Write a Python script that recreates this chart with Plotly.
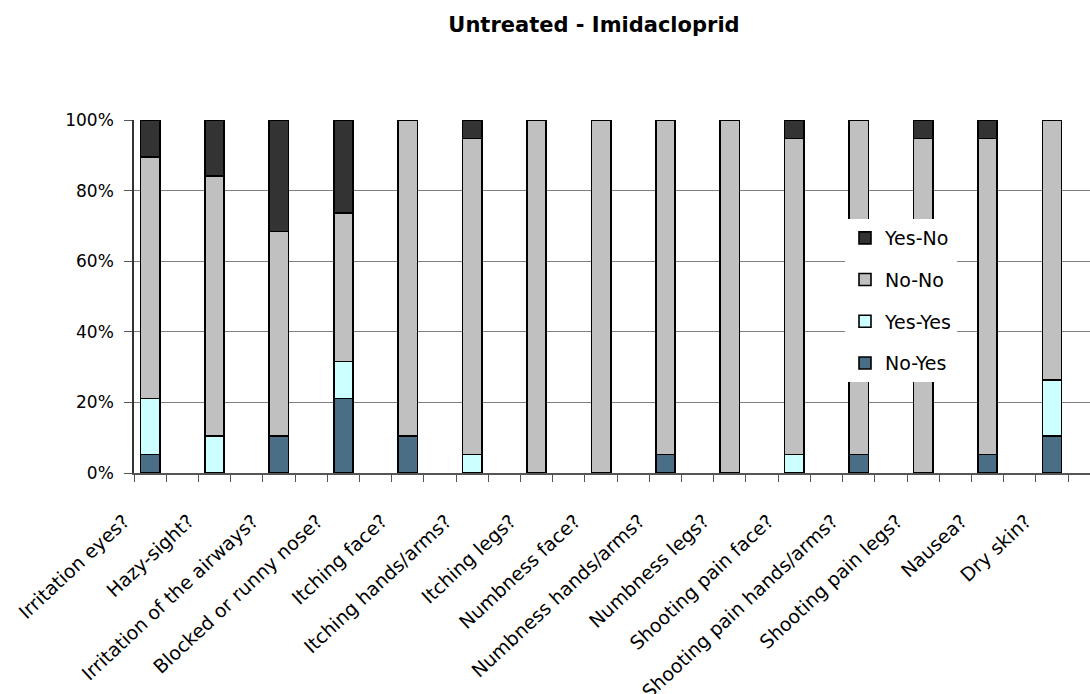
import plotly.graph_objects as go

categories = ["Irritation eyes?", "Hazy-sight?", "Irritation of the airways?",
              "Blocked or runny nose?", "Itching face?", "Itching hands/arms?",
              "Itching legs?", "Numbness face?", "Numbness hands/arms?",
              "Numbness legs?", "Shooting pain face?", "Shooting pain hands/arms?",
              "Shooting pain legs?", "Nausea?", "Dry skin?"]

# counts of respondents (shown as percentage of each group's total)
no_yes  = [1, 0, 2, 4, 2, 0, 0, 0, 1, 0, 0, 1, 0, 1, 2]
yes_yes = [3, 2, 0, 2, 0, 1, 0, 0, 0, 0, 1, 0, 0, 0, 3]
no_no   = [13, 14, 11, 8, 17, 17, 19, 19, 18, 19, 17, 18, 18, 17, 14]
yes_no  = [2, 3, 6, 5, 0, 1, 0, 0, 0, 0, 1, 0, 1, 1, 0]

y_tickvals = [0, 20, 40, 60, 80, 100]
y_ticktext = ["0%", "20%", "40%", "60%", "80%", "100%"]

series = [("No-Yes", no_yes, "#4A6E86", 4),
          ("Yes-Yes", yes_yes, "#CCFFFF", 3),
          ("No-No", no_no, "#C0C0C0", 2),
          ("Yes-No", yes_no, "#333333", 1)]

xpos = list(range(len(categories)))
FONT = "DejaVu Sans"

fig = go.Figure()
for name, vals, col, rank in series:
    xs = [i for i, v in zip(xpos, vals) if v]
    ys = [v for v in vals if v]
    fig.add_trace(go.Bar(
        x=xs, y=ys, name=name,
        legendgroup=name, legendrank=rank,
        marker=dict(color=col, line=dict(color="#000000", width=1.6)),
        width=0.3))

minor_ticks = []
for i in xpos:
    minor_ticks += [i - 0.25, i + 0.25]

fig.update_layout(
    width=1090, height=694,
    margin=dict(l=134, r=0, t=120, b=221),
    barmode="stack", barnorm="percent",
    plot_bgcolor="white", paper_bgcolor="white",
    font=dict(family=FONT, size=17, color="#000000"),
    title=dict(text="<b>Untreated - Imidacloprid</b>", x=594/1090, xref="container",
               xanchor="center", y=1 - 25/694, yanchor="middle",
               font=dict(family=FONT, size=21, color="#000000")),
    legend=dict(x=(845-134)/956, y=(473-219)/353, xanchor="left", yanchor="top",
                bgcolor="white", borderwidth=0,
                traceorder="grouped", tracegroupgap=14,
                font=dict(family=FONT, size=19, color="#000000")),
    showlegend=True,
)
fig.update_xaxes(
    range=[-0.25, 14.59], tickmode="array", tickvals=xpos, ticktext=categories,
    tickangle=-43, ticks="", showgrid=False, zeroline=False, automargin=False,
    ticklabelstandoff=28, ticklabelshift=-26,
    showline=True, linecolor="#555555", linewidth=1.5,
    tickfont=dict(family=FONT, size=19, color="#000000"),
    minor=dict(tickmode="array", tickvals=minor_ticks, ticks="outside",
               ticklen=7, tickwidth=1, tickcolor="#555555", showgrid=False),
)
fig.update_yaxes(
    range=[0, 100], tickmode="array", tickvals=y_tickvals, ticktext=y_ticktext,
    ticks="outside", ticklen=8, tickcolor="#555555", automargin=False,
    ticklabelstandoff=7,
    showgrid=True, gridcolor="#808080", gridwidth=1, zeroline=False,
    showline=True, linecolor="#333333", linewidth=1.5,
    tickfont=dict(family=FONT, size=17, color="#000000"),
)

fig.write_html("out.html")
